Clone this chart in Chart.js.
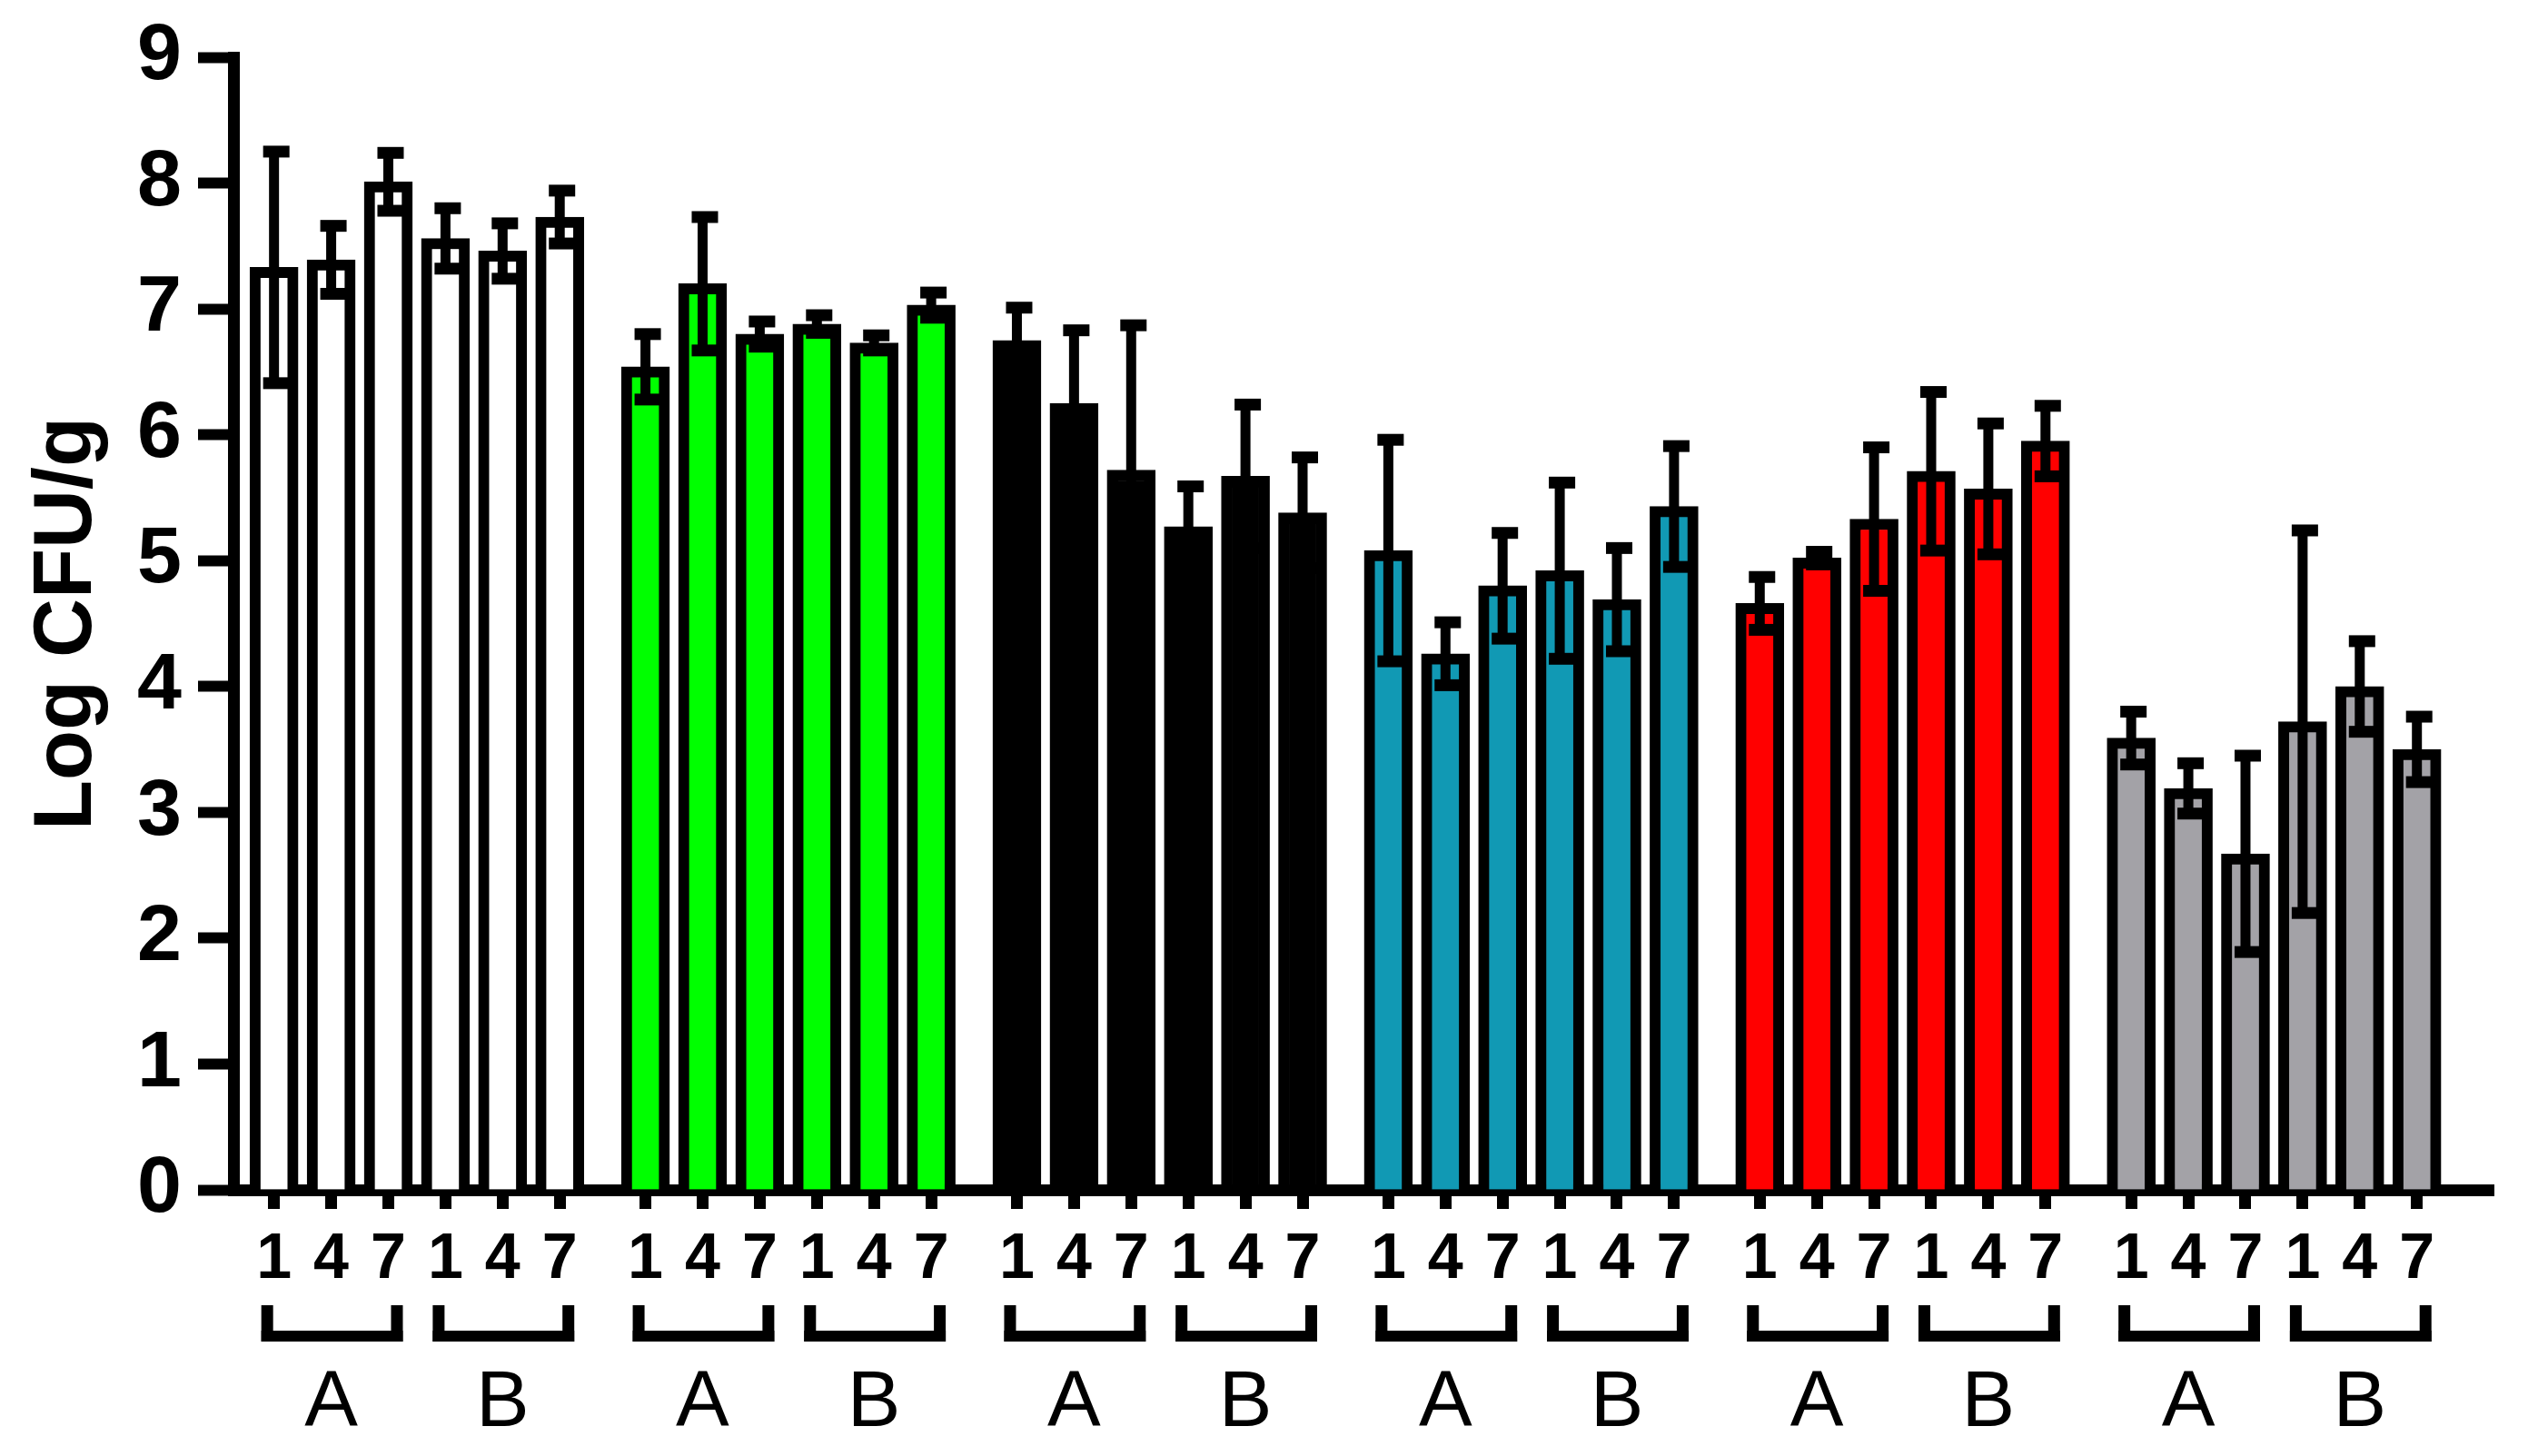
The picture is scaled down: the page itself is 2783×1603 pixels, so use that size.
<!DOCTYPE html>
<html>
<head>
<meta charset="utf-8">
<script src="https://cdn.jsdelivr.net/npm/chart.js@4.4.1/dist/chart.umd.min.js"></script>
<style>
  html, body { margin: 0; padding: 0; background: #fff; }
</style>
</head>
<body>
<canvas id="myChart" width="2783" height="1603"></canvas>
<script>
// days within each section, sections within each treatment
const dayLabels = ['1', '4', '7'];
const sectionLabels = ['A', 'B'];
const groupColors = ['#FFFFFF', '#00FF00', '#000000', '#1199B4', '#FF0000', '#A3A2A7'];

// mean log CFU/g, order A1 A4 A7 B1 B4 B7
const whiteMeans = [7.33, 7.39, 8.01, 7.56, 7.46, 7.73];
const whiteSD = [0.92, 0.27, 0.23, 0.24, 0.22, 0.21];
const greenMeans = [6.54, 7.20, 6.80, 6.88, 6.73, 7.03];
const greenSD = [0.26, 0.53, 0.10, 0.07, 0.06, 0.10];
const blackMeans = [6.75, 6.25, 5.72, 5.27, 5.67, 5.38];
const blackSD = [0.26, 0.58, 1.15, 0.32, 0.57, 0.44];
const tealMeans = [5.08, 4.26, 4.80, 4.92, 4.69, 5.43];
const tealSD = [0.88, 0.25, 0.42, 0.70, 0.41, 0.48];
const redMeans = [4.66, 5.02, 5.33, 5.71, 5.57, 5.95];
const redSD = [0.21, 0.05, 0.57, 0.63, 0.52, 0.28];
const greyMeans = [3.59, 3.19, 2.67, 3.72, 4.00, 3.50];
const greySD = [0.21, 0.20, 0.78, 1.52, 0.36, 0.26];

const yTicks = [0, 1, 2, 3, 4, 5, 6, 7, 8, 9];

const groupMeans = [whiteMeans, greenMeans, blackMeans, tealMeans, redMeans, greyMeans];
const groupSDs = [whiteSD, greenSD, blackSD, tealSD, redSD, greySD];

const GROUP_STEP = 6.5; // bars per group plus half a slot of gap
const FONT = '"Liberation Sans", Arial, sans-serif';

const xPos = [];
const allMeans = [];
const allSD = [];
const barColors = [];
groupMeans.forEach((means, g) => {
  means.forEach((m, j) => {
    xPos.push(g * GROUP_STEP + j);
    allMeans.push(m);
    allSD.push(groupSDs[g][j]);
    barColors.push(groupColors[g]);
  });
});

const points = xPos.map((x, i) => ({ x: x, y: allMeans[i] }));

// error bars (mean +/- SD)
const errorBars = {
  id: 'errorBars',
  afterDatasetsDraw(chart) {
    const ctx = chart.ctx;
    const yScale = chart.scales.y;
    const meta = chart.getDatasetMeta(0);
    ctx.save();
    ctx.fillStyle = '#000';
    meta.data.forEach((bar, i) => {
      const top = yScale.getPixelForValue(allMeans[i] + allSD[i]);
      const bot = yScale.getPixelForValue(allMeans[i] - allSD[i]);
      const x = bar.x;
      ctx.fillRect(x - 5.5, top, 11, bot - top);
      ctx.fillRect(x - 12, top - 6.5, 29, 13);
      ctx.fillRect(x - 12, bot - 6.5, 29, 13);
    });
    ctx.restore();
  }
};

// brackets and A/B under each day triplet
const brackets = {
  id: 'brackets',
  afterDraw(chart) {
    const ctx = chart.ctx;
    const xScale = chart.scales.x;
    ctx.save();
    ctx.fillStyle = '#000';
    ctx.font = '88px ' + FONT;
    ctx.textAlign = 'center';
    ctx.textBaseline = 'middle';
    groupMeans.forEach((means, g) => {
      sectionLabels.forEach((lab, s) => {
        const first = g * GROUP_STEP + s * dayLabels.length;
        const x1 = xScale.getPixelForValue(first) - 14;
        const x2 = xScale.getPixelForValue(first + dayLabels.length - 1) + 16;
        ctx.fillRect(x1, 1437, 13, 40);
        ctx.fillRect(x2 - 13, 1437, 13, 40);
        ctx.fillRect(x1, 1465, x2 - x1, 12);
        const xc = xScale.getPixelForValue(first + 1);
        ctx.fillText(lab, xc, 1546);
      });
    });
    ctx.restore();
  }
};

const ctx = document.getElementById('myChart').getContext('2d');
const myChart = new Chart(ctx, {
  type: 'bar',
  data: {
    datasets: [
      {
        data: points,
        backgroundColor: barColors,
        borderColor: '#000',
        borderWidth: 12,
        borderSkipped: 'start',
        barThickness: 53,
        grouped: false,
      },
    ],
  },
  options: {
    responsive: false,
    animation: false,
    devicePixelRatio: 1,
    layout: { padding: { left: 0, top: 63, right: 38, bottom: 0 } },
    plugins: {
      legend: { display: false },
      tooltip: { enabled: false },
    },
    scales: {
      x: {
        type: 'linear',
        bounds: 'data',
        min: -0.71,
        max: 38.84,
        offset: false,
        z: 1,
        grid: {
          offset: false,
          drawOnChartArea: false,
          drawTicks: true,
          tickLength: 21,
          tickWidth: 13,
          tickColor: '#000',
        },
        border: { display: true, color: '#000', width: 13 },
        afterBuildTicks: (scale) => {
          scale.ticks = xPos.map((v) => ({ value: v }));
        },
        afterFit: (scale) => {
          scale.height = 293;
        },
        ticks: {
          autoSkip: false,
          maxRotation: 0,
          minRotation: 0,
          padding: 15,
          color: '#000',
          font: { family: FONT, size: 70, weight: 'bold' },
          callback: (value, index) => dayLabels[index % dayLabels.length],
        },
      },
      y: {
        min: 0,
        max: 9,
        z: 1,
        grid: {
          drawOnChartArea: false,
          drawTicks: true,
          tickLength: 39,
          tickWidth: 12,
          tickColor: '#000',
        },
        border: { display: true, color: '#000', width: 13 },
        afterBuildTicks: (scale) => {
          scale.ticks = yTicks.map((v) => ({ value: v }));
        },
        afterFit: (scale) => {
          scale.width = 257;
        },
        ticks: {
          padding: 18,
          color: '#000',
          font: { family: FONT, size: 88, weight: 'bold', lineHeight: 1.0 },
        },
        title: {
          display: true,
          text: 'Log CFU/g',
          color: '#000',
          padding: { top: 21, bottom: 0 },
          font: { family: FONT, size: 90, weight: 'bold' },
        },
      },
    },
  },
  plugins: [errorBars, brackets],
});
</script>
</body>
</html>
